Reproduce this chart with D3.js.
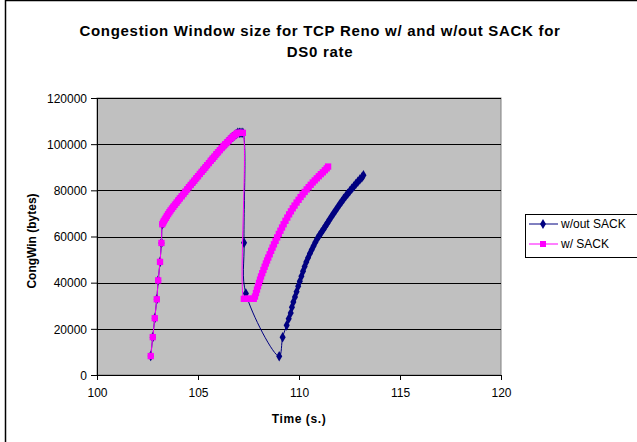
<!DOCTYPE html>
<html>
<head>
<meta charset="utf-8">
<script src="https://cdn.jsdelivr.net/npm/d3@7"></script>
<style>
  body { margin: 0; background: #fff; }
  svg text { font-family: Arial, "Liberation Sans", sans-serif; }
</style>
</head>
<body>
<svg id="chart" width="637" height="442"></svg>
<script>
"use strict";

// slow start + first ramp, common to both runs (up to the loss near 107.2 s)
var rampTime = [102.66, 102.76, 102.86, 102.96, 103.03, 103.12, 103.19,
  103.23, 103.27, 103.31, 103.36, 103.41, 103.46, 103.52, 103.58, 103.64, 103.71, 103.78,
  103.86, 103.94, 104.02, 104.10, 104.19, 104.28, 104.37, 104.46, 104.55, 104.64,
  104.73, 104.82, 104.91, 105.00, 105.09, 105.18, 105.27, 105.36, 105.45, 105.54,
  105.63, 105.72, 105.81, 105.90, 105.99, 106.08, 106.17, 106.26, 106.35, 106.44,
  106.53, 106.62, 106.71, 106.80, 106.89, 106.97, 107.05, 107.13, 107.22];
var rampCwnd = [8200, 16400, 24600, 32800, 41000, 49000, 57200,
  65300, 66000, 66700, 67400, 68100, 68900, 69700, 70500, 71300, 72100, 72900,
  73800, 74700, 75600, 76500, 77400, 78400, 79400, 80400, 81400, 82300,
  83300, 84200, 85200, 86100, 87100, 88000, 89000, 89900, 90900, 91800,
  92800, 93700, 94600, 95600, 96500, 97400, 98300, 99200, 100000, 100800,
  101600, 102400, 103100, 103800, 104400, 104900, 104900, 104900, 104900];

// w/out SACK, after the loss
var noSackTime = [107.28, 107.37, 109.02, 109.19, 109.39, 109.49,
  109.59, 109.65, 109.72, 109.80, 109.88, 109.96, 110.04, 110.12, 110.20, 110.28,
  110.36, 110.45, 110.54, 110.63, 110.72, 110.81, 110.91, 111.01, 111.11, 111.21,
  111.31, 111.41, 111.51, 111.61, 111.71, 111.81, 111.91, 112.01, 112.11, 112.21,
  112.31, 112.41, 112.51, 112.61, 112.71, 112.81, 112.91, 113.01, 113.11, 113.19];
var noSackCwnd = [57300, 35300, 8100, 16400, 21500, 24400,
  26900, 29400, 31600, 33800, 36100, 38400, 40600, 42800, 45000, 47000,
  48900, 50800, 52600, 54300, 55900, 57500, 59100, 60500, 61800, 63100,
  64500, 65900, 67300, 68700, 70000, 71300, 72600, 73900, 75100, 76300,
  77400, 78500, 79600, 80700, 81700, 82700, 83700, 84700, 85600, 86500];

// w/ SACK, after the loss
var sackTime = [107.27, 107.37, 107.47, 107.57, 107.67, 107.76,
  107.82, 107.87, 107.92, 107.97, 108.02, 108.07, 108.12, 108.18, 108.24, 108.30,
  108.36, 108.42, 108.48, 108.55, 108.62, 108.69, 108.76, 108.84, 108.92, 109.00,
  109.08, 109.16, 109.24, 109.33, 109.42, 109.51, 109.60, 109.69, 109.78, 109.88,
  109.98, 110.08, 110.18, 110.28, 110.38, 110.48, 110.58, 110.68, 110.78, 110.88,
  110.98, 111.08, 111.18, 111.28, 111.37, 111.44];
var sackCwnd = [33000, 33000, 33000, 33000, 33000, 33000,
  34000, 35500, 37000, 38500, 39900, 41300, 42700, 44100, 45500, 46900,
  48300, 49600, 50900, 52300, 53800, 55200, 56600, 58100, 59600, 61100,
  62500, 63900, 65300, 66800, 68200, 69600, 70900, 72200, 73400, 74700,
  75900, 77100, 78200, 79300, 80400, 81400, 82400, 83400, 84300, 85200,
  86100, 87000, 87800, 88700, 89500, 90300];

var xTicks = [100, 105, 110, 115, 120];
var yTicks = [0, 20000, 40000, 60000, 80000, 100000, 120000];

var titleLines = ["Congestion Window size for TCP Reno w/ and w/out SACK for", "DS0 rate"];

function pairs(t, w) {
  return t.map(function (d, i) { return { t: d, w: w[i] }; });
}

var series = [
  { name: "w/out SACK", color: "#000080", shape: d3.symbolDiamond,
    points: pairs(rampTime.concat(noSackTime), rampCwnd.concat(noSackCwnd)) },
  { name: "w/ SACK", color: "#FF00FF", shape: d3.symbolSquare,
    points: pairs(rampTime.concat(sackTime), rampCwnd.concat(sackCwnd)) }
];

var svg = d3.select("#chart");

// chart area border
svg.append("rect")
  .attr("x", 5.5).attr("y", 0.5)
  .attr("width", 640).attr("height", 450)
  .attr("fill", "#fff")
  .attr("stroke", "#000")
  .attr("stroke-width", 1.5);

var plot = { left: 97, right: 501, top: 98, bottom: 375 };

var x = d3.scaleLinear().domain([100, 120]).range([plot.left, plot.right]);
var y = d3.scaleLinear().domain([0, 120000]).range([plot.bottom, plot.top]);

// title
svg.append("g").selectAll("text")
  .data(titleLines)
  .enter()
  .append("text")
  .attr("x", 320)
  .attr("y", function (d, i) { return 36 + 21 * i; })
  .attr("text-anchor", "middle")
  .attr("font-size", 15)
  .attr("font-weight", "bold")
  .attr("letter-spacing", 0.7)
  .attr("fill", "#000")
  .text(function (d) { return d; });

// plot background
svg.append("rect")
  .attr("x", plot.left).attr("y", plot.top)
  .attr("width", plot.right - plot.left).attr("height", plot.bottom - plot.top)
  .attr("fill", "#C0C0C0")
  .attr("stroke", "#808080");

// gridlines
svg.append("g").selectAll("line")
  .data(yTicks.filter(function (d) { return d > 0; }))
  .enter()
  .append("line")
  .attr("x1", plot.left).attr("x2", plot.right)
  .attr("y1", function (d) { return Math.round(y(d)) + 0.5; })
  .attr("y2", function (d) { return Math.round(y(d)) + 0.5; })
  .attr("stroke", "#000")
  .attr("stroke-width", 1);

// axes
var xAxis = svg.append("g")
  .attr("transform", "translate(0," + plot.bottom + ")")
  .call(d3.axisBottom(x).tickValues(xTicks).tickSize(5).tickPadding(8).tickFormat(d3.format("d")));
var yAxis = svg.append("g")
  .attr("transform", "translate(" + plot.left + ",0)")
  .call(d3.axisLeft(y).tickValues(yTicks).tickSize(6).tickPadding(4).tickFormat(d3.format("d")));

[xAxis, yAxis].forEach(function (a) {
  a.select(".domain").attr("stroke", "#000");
  a.selectAll(".tick line").attr("stroke", "#000");
  a.selectAll(".tick text")
    .attr("font-size", 12)
    .attr("font-family", "Arial, 'Liberation Sans', sans-serif")
    .attr("fill", "#000");
});
yAxis.selectAll(".tick text").attr("dy", "0.35em");

// axis titles
svg.append("text")
  .attr("x", 299).attr("y", 423)
  .attr("text-anchor", "middle")
  .attr("font-size", 12)
  .attr("font-weight", "bold")
  .attr("letter-spacing", 0.6)
  .text("Time (s.)");

svg.append("text")
  .attr("transform", "translate(36,241) rotate(-90)")
  .attr("text-anchor", "middle")
  .attr("font-size", 12)
  .attr("font-weight", "bold")
  .text("CongWin (bytes)");

// series
var line = d3.line()
  .x(function (d) { return x(d.t); })
  .y(function (d) { return y(d.w); })
  .curve(d3.curveCatmullRom.alpha(0.5));

series.forEach(function (s) {
  var g = svg.append("g").attr("class", "series");
  g.append("path")
    .datum(s.points)
    .attr("d", line)
    .attr("fill", "none")
    .attr("stroke", s.color)
    .attr("stroke-width", 1);
  g.selectAll("path.mark")
    .data(s.points)
    .enter()
    .append("path")
    .attr("class", "mark")
    .attr("transform", function (d) { return "translate(" + x(d.t) + "," + y(d.w) + ")"; })
    .attr("d", d3.symbol().type(s.shape).size(s.shape === d3.symbolSquare ? 40 : 32))
    .attr("fill", s.color);
});

// legend
var legend = svg.append("g").attr("class", "legend");
legend.append("rect")
  .attr("x", 525.5).attr("y", 214.5)
  .attr("width", 115).attr("height", 43)
  .attr("fill", "#fff")
  .attr("stroke", "#000");

var entry = legend.selectAll("g.entry")
  .data(series)
  .enter()
  .append("g")
  .attr("class", "entry")
  .attr("transform", function (d, i) { return "translate(0," + (224 + 20 * i) + ")"; });
entry.append("line")
  .attr("x1", 529).attr("x2", 558)
  .attr("stroke", function (d) { return d.color; });
entry.append("path")
  .attr("transform", "translate(543,0)")
  .attr("d", function (d) { return d3.symbol().type(d.shape).size(d.shape === d3.symbolSquare ? 36 : 30)(); })
  .attr("fill", function (d) { return d.color; });
entry.append("text")
  .attr("x", 561).attr("y", 4)
  .attr("font-size", 12)
  .text(function (d) { return d.name; });
</script>
</body>
</html>
